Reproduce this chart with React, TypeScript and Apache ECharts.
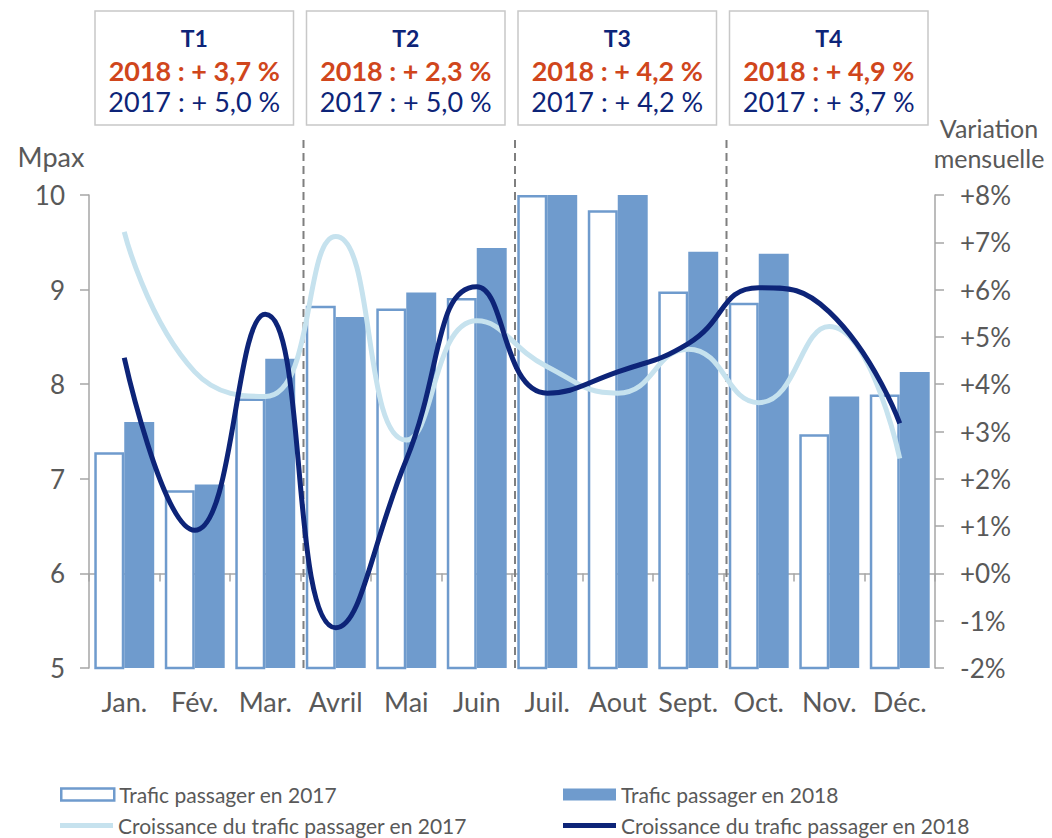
import React, { useEffect, useRef } from "react";
import * as echarts from "echarts";

const months = ["Jan.", "Fév.", "Mar.", "Avril", "Mai", "Juin", "Juil.", "Aout", "Sept.", "Oct.", "Nov.", "Déc."];
const traffic2017 = [7.28, 6.88, 7.85, 8.83, 8.8, 8.91, 10.0, 9.84, 8.98, 8.86, 7.47, 7.89];
const traffic2018 = [7.6, 6.94, 8.27, 8.71, 8.97, 9.44, 10.0, 10.0, 9.4, 9.38, 7.87, 8.13];
const growth2017 = [7.22, 4.26, 3.74, 7.12, 2.82, 5.34, 4.37, 3.81, 4.74, 3.61, 5.22, 2.43];
const growth2018 = [4.56, 0.91, 5.48, -1.15, 2.4, 6.06, 3.81, 4.26, 4.86, 6.04, 5.53, 3.17];
const quarters = ["T1", "T2", "T3", "T4"];
const quarter2018 = ["2018 : + 3,7 %", "2018 : + 2,3 %", "2018 : + 4,2 %", "2018 : + 4,9 %"];
const quarter2017 = ["2017 : + 5,0 %", "2017 : + 5,0 %", "2017 : + 4,2 %", "2017 : + 3,7 %"];

const S_BAR17 = "Trafic passager en 2017";
const S_BAR18 = "Trafic passager en 2018";
const S_LINE17 = "Croissance du trafic passager en 2017";
const S_LINE18 = "Croissance du trafic passager en 2018";

const FONT = "Lato, 'DejaVu Sans', sans-serif";
const GREY_TEXT = "#595959";
const AXIS = "#a6a6a6";
const BLUE = "#6f9bcd";
const LIGHT = "#c6e2ee";
const NAVY = "#0d2478";
const ORANGE = "#d0461c";

export default function App() {
  const ref = useRef<HTMLDivElement>(null);
  useEffect(() => {
    document.body.style.margin = "0";
    const chart = echarts.init(ref.current!, undefined, { renderer: "svg" });
    const legendText = { fontFamily: FONT, fontSize: 21, color: GREY_TEXT };
    const legendBase = { itemWidth: 53, itemHeight: 12, padding: 0, textStyle: legendText, selectedMode: false };
    const option: any = {
      animation: false,
      textStyle: { fontFamily: FONT },
      grid: { left: 89, right: 117, top: 195, bottom: 170 },
      legend: [
        { ...legendBase, data: [S_BAR17], left: 60, top: 784, icon: "rect",
          itemStyle: { color: "#fff", borderColor: BLUE, borderWidth: 2.5 } },
        { ...legendBase, data: [S_BAR18], left: 563, top: 784, icon: "rect" },
        { ...legendBase, data: [S_LINE17], left: 60, top: 815, icon: "rect", itemHeight: 5,
          itemStyle: { color: LIGHT, borderWidth: 0 } },
        { ...legendBase, data: [S_LINE18], left: 563, top: 815, icon: "rect", itemHeight: 5,
          itemStyle: { color: NAVY, borderWidth: 0 } },
      ],
      xAxis: {
        type: "category",
        data: months,
        axisLine: { lineStyle: { color: AXIS, width: 1.5 } },
        axisTick: { show: true, length: 8, interval: 0, lineStyle: { color: AXIS, width: 1.5 } },
        axisLabel: { fontFamily: FONT, fontSize: 27, color: GREY_TEXT, margin: 20, interval: 0 },
      },
      yAxis: [
        {
          type: "value", min: 5, max: 10, interval: 1, position: "left",
          axisLine: { show: true, lineStyle: { color: AXIS, width: 1.5 } },
          axisTick: { show: true, length: 9, lineStyle: { color: AXIS, width: 1.5 } },
          splitLine: { show: false },
          axisLabel: { fontFamily: FONT, fontSize: 26, color: GREY_TEXT, margin: 24 },
        },
        {
          type: "value", min: -2, max: 8, interval: 1, position: "right",
          axisLine: { show: true, lineStyle: { color: AXIS, width: 1.5 } },
          axisTick: { show: true, length: 9, lineStyle: { color: AXIS, width: 1.5 } },
          splitLine: { show: false },
          axisLabel: {
            fontFamily: FONT, fontSize: 26, color: GREY_TEXT, margin: 25,
            formatter: (v: number) => (v >= 0 ? "+" + v + "%" : v + "%"),
          },
        },
      ],
      series: [
        {
          name: S_BAR17, type: "bar", data: traffic2017, yAxisIndex: 0, z: 1,
          barGap: "0%", barCategoryGap: "15%",
          itemStyle: { color: "#ffffff", borderColor: BLUE, borderWidth: 2.5 },
        },
        {
          name: S_BAR18, type: "bar", data: traffic2018, yAxisIndex: 0, z: 1,
          barGap: "0%", barCategoryGap: "15%",
          itemStyle: { color: BLUE },
        },
        {
          name: S_LINE17, type: "line", data: growth2017, yAxisIndex: 1, z: 3,
          smooth: 0.5, symbol: "none", lineStyle: { color: LIGHT, width: 5 }, itemStyle: { color: LIGHT },
        },
        {
          name: S_LINE18, type: "line", data: growth2018, yAxisIndex: 1, z: 4,
          smooth: 0.5, symbol: "none", lineStyle: { color: NAVY, width: 5 }, itemStyle: { color: NAVY },
        },
      ],
    };
    chart.setOption(option);

    const centers = months.map((m) => chart.convertToPixel({ xAxisIndex: 0 }, m) as number);
    const step = centers[1] - centers[0];
    const bounds = [0, 3, 6, 9, 12].map((i) => (i < 12 ? centers[i] - step / 2 : centers[11] + step / 2));
    const yBottom = chart.convertToPixel({ yAxisIndex: 0 }, 5) as number;

    const graphics: any[] = [];
    [1, 2, 3].forEach((k) => {
      graphics.push({
        type: "line", z: 2,
        shape: { x1: bounds[k] + 3, y1: 140, x2: bounds[k] + 3, y2: yBottom },
        style: { stroke: "#7f7f7f", lineWidth: 2, lineDash: [8, 5] },
      });
    });
    quarters.forEach((q, k) => {
      const x0 = bounds[k] + 6;
      const x1 = bounds[k + 1] - 7;
      const cx = (x0 + x1) / 2;
      graphics.push({
        type: "rect", z: 5,
        shape: { x: x0, y: 11, width: x1 - x0, height: 114 },
        style: { fill: "#ffffff", stroke: "#c8c8c8", lineWidth: 1.5 },
      });
      graphics.push({
        type: "text", z: 6, x: cx, y: 38,
        style: { text: q, fill: NAVY, font: `bold 23px ${FONT}`, align: "center", verticalAlign: "middle" },
      });
      graphics.push({
        type: "text", z: 6, x: cx, y: 70,
        style: { text: quarter2018[k], fill: ORANGE, font: `bold 27px ${FONT}`, align: "center", verticalAlign: "middle" },
      });
      graphics.push({
        type: "text", z: 6, x: cx, y: 101,
        style: { text: quarter2017[k], fill: NAVY, font: `27px ${FONT}`, align: "center", verticalAlign: "middle" },
      });
    });
    graphics.push({
      type: "text", x: 51, y: 156,
      style: { text: "Mpax", fill: GREY_TEXT, font: `27px ${FONT}`, align: "center", verticalAlign: "middle" },
    });
    graphics.push({
      type: "text", x: 989, y: 128,
      style: { text: "Variation", fill: GREY_TEXT, font: `25px ${FONT}`, align: "center", verticalAlign: "middle" },
    });
    graphics.push({
      type: "text", x: 989, y: 158,
      style: { text: "mensuelle", fill: GREY_TEXT, font: `25px ${FONT}`, align: "center", verticalAlign: "middle" },
    });
    chart.setOption({ graphic: graphics });

    return () => chart.dispose();
  }, []);
  return <div ref={ref} style={{ width: 1052, height: 838 }} />;
}
